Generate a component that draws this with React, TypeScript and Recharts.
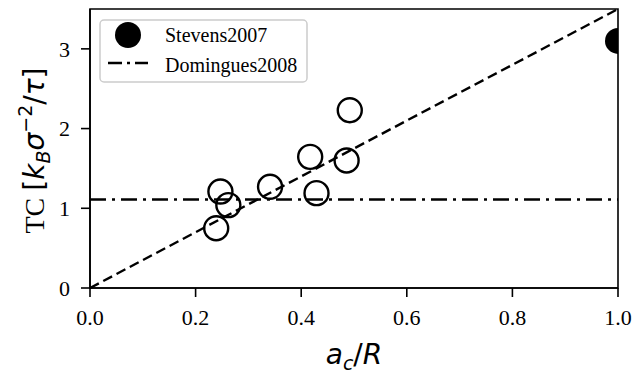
import React from "react";
import {
  ComposedChart,
  Scatter,
  XAxis,
  YAxis,
  ReferenceLine,
  ReferenceArea,
  Label,
} from "recharts";

// simulation points (a_c/R, TC)
const simX = [0.239, 0.247, 0.262, 0.341, 0.417, 0.429, 0.486, 0.492];
const simY = [0.75, 1.21, 1.04, 1.27, 1.645, 1.19, 1.6, 2.23];

// Stevens2007 reference point
const stevensX = [1.0];
const stevensY = [3.1];

// Domingues2008 constant value
const dominguesY = 1.11;

// linear guide TC = 3.5 * a_c/R
const guideX = [0, 1];
const guideY = [0, 3.5];

const xTicks = [0, 0.2, 0.4, 0.6, 0.8, 1.0];
const yTicks = [0, 1, 2, 3];

const simData = simX.map((x, i) => ({ x, y: simY[i] }));
const stevensData = stevensX.map((x, i) => ({ x, y: stevensY[i] }));

const SERIF = "'Liberation Serif', 'Times New Roman', serif";
const MATH = "'DejaVu Sans', sans-serif";

const tickStyle = { fontFamily: SERIF, fontSize: 22, fill: "#000" };

function HollowCircle(props: any) {
  const { cx, cy } = props;
  return <circle cx={cx} cy={cy} r={12} fill="none" stroke="#000" strokeWidth={2.4} />;
}

function FilledCircle(props: any) {
  const { cx, cy } = props;
  return <circle cx={cx} cy={cy} r={13} fill="#000" />;
}

function XLabel(props: any) {
  const { viewBox } = props;
  const cx = viewBox.x + viewBox.width / 2;
  const y = viewBox.y + 76;
  return (
    <text x={cx} y={y} textAnchor="middle" fontFamily={MATH} fontSize={28} fontStyle="italic" fill="#000">
      a
      <tspan fontSize={19} dy={6}>c</tspan>
      <tspan dy={-6} fontStyle="normal">/</tspan>
      <tspan>R</tspan>
    </text>
  );
}

function YLabel(props: any) {
  const { viewBox } = props;
  const x = 44;
  const cy = viewBox.y + viewBox.height / 2 + 2;
  return (
    <text
      x={x}
      y={cy}
      transform={`rotate(-90, ${x}, ${cy})`}
      textAnchor="middle"
      fontSize={28}
      fill="#000"
      stroke="none"
    >
      <tspan fontFamily={SERIF} fill="#000">TC </tspan>
      <tspan fontFamily={MATH} fill="#000">[</tspan>
      <tspan fontFamily={MATH} fontStyle="italic" fill="#000">k</tspan>
      <tspan fontFamily={MATH} fontStyle="italic" fontSize={19} dy={6} fill="#000">B</tspan>
      <tspan fontFamily={MATH} fontStyle="italic" dy={-6} fill="#000">σ</tspan>
      <tspan fontFamily={MATH} fontSize={19} dy={-12} fill="#000">−2</tspan>
      <tspan fontFamily={MATH} dy={12} fill="#000">/</tspan>
      <tspan fontFamily={MATH} fontStyle="italic" fill="#000">τ</tspan>
      <tspan fontFamily={MATH} fill="#000">]</tspan>
    </text>
  );
}

function LegendBox() {
  return (
    <svg
      width={209}
      height={64}
      style={{ position: "absolute", left: 99, top: 19 }}
    >
      <rect x={1} y={1} width={207} height={62} rx={4} fill="rgba(255,255,255,0.8)" stroke="#ccc" strokeWidth={1.5} />
      <circle cx={29} cy={16} r={13} fill="#000" />
      <text x={66} y={23} fontFamily={SERIF} fontSize={20} fill="#000">
        Stevens2007
      </text>
      <line x1={9} y1={44} x2={49} y2={44} stroke="#000" strokeWidth={2.4} strokeDasharray="14 5 3 5" />
      <text x={66} y={53} fontFamily={SERIF} fontSize={20} fill="#000">
        Domingues2008
      </text>
    </svg>
  );
}

export default function App() {
  return (
    <div style={{ position: "absolute", left: 0, top: 0, width: 644, height: 373, background: "#fff" }}>
      <ComposedChart width={644} height={373} margin={{ top: 9, right: 26, bottom: 0, left: 0 }}>
        <XAxis
          type="number"
          dataKey="x"
          domain={[0, 1]}
          ticks={xTicks}
          allowDataOverflow
          tickFormatter={(v: number) => v.toFixed(1)}
          tick={tickStyle}
          tickSize={9}
          tickMargin={12}
          height={85}
          axisLine={{ stroke: "#000", strokeWidth: 1.6 }}
          tickLine={{ stroke: "#000", strokeWidth: 1.6 }}
        >
          <Label content={<XLabel />} />
        </XAxis>
        <YAxis
          type="number"
          dataKey="y"
          domain={[0, 3.5]}
          ticks={yTicks}
          allowDataOverflow
          tick={tickStyle}
          tickSize={9}
          tickMargin={11}
          width={90}
          axisLine={{ stroke: "#000", strokeWidth: 1.6 }}
          tickLine={{ stroke: "#000", strokeWidth: 1.6 }}
        >
          <Label content={<YLabel />} />
        </YAxis>
        <ReferenceArea
          x1={0}
          x2={1}
          y1={0}
          y2={3.5}
          fill="none"
          stroke="#000"
          strokeWidth={1.6}
          ifOverflow="visible"
        />
        <ReferenceLine
          y={dominguesY}
          stroke="#000"
          strokeWidth={2.4}
          strokeDasharray="16 6 3 6"
        />
        <ReferenceLine
          segment={[
            { x: guideX[0], y: guideY[0] },
            { x: guideX[1], y: guideY[1] },
          ]}
          stroke="#000"
          strokeWidth={2.4}
          strokeDasharray="10 5"
        />
        <Scatter data={simData} shape={<HollowCircle />} isAnimationActive={false} />
        <Scatter data={stevensData} shape={<FilledCircle />} isAnimationActive={false} />
      </ComposedChart>
      <LegendBox />
    </div>
  );
}
